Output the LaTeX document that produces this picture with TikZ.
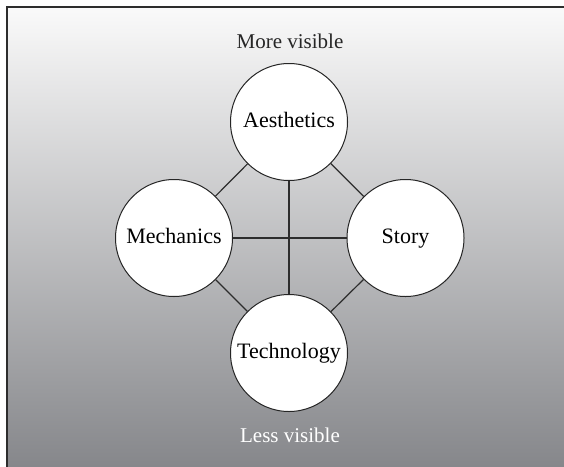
\documentclass[tikz,border=0pt]{standalone}
\usepackage{fontspec}
\setmainfont{Liberation Serif}
\definecolor{topgray}{RGB}{250,250,250}
\definecolor{botgray}{RGB}{133,134,138}
\definecolor{linegray}{RGB}{45,45,45}
\begin{document}
\begin{tikzpicture}[x=1pt,y=-1pt,
  circ/.style={circle, draw=black!85, line width=1pt, fill=white, minimum size=117pt, inner sep=0pt, text height=14pt, text depth=4pt, font=\fontsize{22}{25}\selectfont},
  link/.style={draw=linegray, line width=1.2pt},
  caption/.style={font=\fontsize{21}{24}\selectfont}]
\useasboundingbox (0,0) rectangle (564,466);
\shade[top color=topgray, bottom color=botgray] (7,7) rectangle (570,470);
\draw[linegray, line width=2pt] (7,470) -- (7,7) -- (570,7);
\node[caption, text=black!85] (more) at (290,41) {More visible};
\node[caption, text=white] (less) at (290,435) {Less visible};
\node[circ] (aes) at (289,122) {Aesthetics};
\node[circ] (mec) at (174,238) {Mechanics};
\node[circ] (sto) at (405.5,238) {Story};
\node[circ] (tec) at (289,353) {Technology};
\draw[link] (aes) -- (mec);
\draw[link] (aes) -- (sto);
\draw[link] (mec) -- (tec);
\draw[link] (sto) -- (tec);
\draw[link] (aes) -- (tec);
\draw[link] (mec) -- (sto);
\end{tikzpicture}
\end{document}
